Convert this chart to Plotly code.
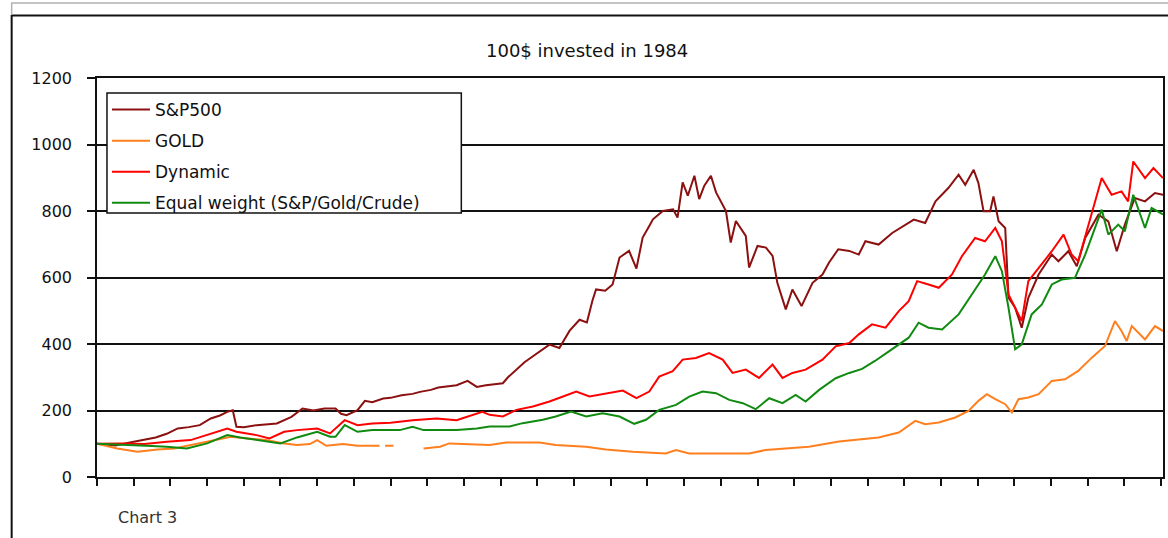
import plotly.graph_objects as go

# Growth of 100$ invested in 1984 (value vs. fractional year)
sp_years = [1984.0, 1984.5, 1985.0, 1985.3, 1985.6, 1985.9, 1986.2, 1986.5, 1986.8, 1987.1,
            1987.35, 1987.55, 1987.7, 1987.8, 1988.0, 1988.35, 1988.6, 1988.9, 1989.3, 1989.6,
            1989.9, 1990.2, 1990.5, 1990.65, 1990.8, 1991.1, 1991.3, 1991.5, 1991.8, 1992.0,
            1992.3, 1992.6, 1992.8, 1993.1, 1993.3, 1993.6, 1993.8, 1994.1, 1994.35, 1994.6,
            1994.9, 1995.06, 1995.2, 1995.43, 1995.65, 1995.88, 1996.1, 1996.33, 1996.6, 1996.88,
            1997.15, 1997.35, 1997.5, 1997.6, 1997.85, 1998.05, 1998.24, 1998.5, 1998.7, 1998.87,
            1999.05, 1999.15, 1999.42, 1999.7, 1999.82, 1999.96, 2000.1, 2000.28, 2000.41, 2000.55,
            2000.73, 2000.87, 2001.14, 2001.27, 2001.41, 2001.68, 2001.77, 2002.0, 2002.23, 2002.41,
            2002.54, 2002.68, 2002.77, 2002.95, 2003.2, 2003.5, 2003.77, 2003.95, 2004.2, 2004.5,
            2004.76, 2004.94, 2005.3, 2005.67, 2006.03, 2006.26, 2006.57, 2006.85, 2007.2, 2007.48,
            2007.66, 2007.89, 2008.02, 2008.16, 2008.34, 2008.43, 2008.57, 2008.75, 2008.84, 2009.02,
            2009.2, 2009.38, 2009.66, 2010.02, 2010.2, 2010.47, 2010.7, 2010.93, 2011.29, 2011.56,
            2011.79, 2012.01, 2012.28, 2012.56, 2012.83, 2013.05]
sp_values = [100, 95, 106, 112, 119, 130, 146, 150, 156, 176,
             185, 196, 201, 151, 150, 156, 158, 161, 181, 206,
             200, 206, 206, 190, 186, 201, 229, 225, 236, 238,
             246, 250, 256, 262, 269, 272, 276, 289, 271, 276,
             281, 282, 300, 323, 345, 363, 380, 398, 388, 440,
             473, 465, 530, 564, 560, 579, 660, 680, 627, 720,
             755, 775, 800, 805, 780, 886, 846, 906, 836, 876,
             906, 856, 800, 705, 770, 725, 630, 695, 690, 665,
             584, 534, 504, 564, 514, 584, 609, 645, 685, 680,
             669, 709, 699, 734, 759, 774, 764, 829, 869, 909,
             879, 924, 884, 799, 799, 844, 769, 749, 539, 509,
             449, 539, 609, 669, 649, 679, 634, 719, 789, 769,
             679, 759, 839, 829, 854, 849]

gold_years = [1984.0, 1984.55, 1985.1, 1985.65, 1986.1, 1986.7, 1987.2, 1987.65, 1988.1, 1988.6,
              1989.1, 1989.45, 1989.8, 1990.0, 1990.25, 1990.7, 1991.1, 1991.35, 1991.7, 1991.78,
              1991.85, 1992.08, 1992.5, 1992.9, 1993.35, 1993.6, 1993.95, 1994.7, 1995.15, 1996.06,
              1996.5, 1997.33, 1997.87, 1998.6, 1999.5, 1999.78, 2000.14, 2001.05, 2001.77, 2002.22,
              2002.86, 2003.4, 2004.22, 2004.76, 2005.3, 2005.85, 2006.3, 2006.57, 2006.94, 2007.39,
              2007.75, 2008.02, 2008.25, 2008.48, 2008.75, 2008.93, 2009.11, 2009.38, 2009.66, 2010.02,
              2010.38, 2010.74, 2011.11, 2011.47, 2011.74, 2011.92, 2012.06, 2012.2, 2012.56, 2012.83,
              2013.05]
gold_values = [100, 86, 76, 83, 86, 99, 111, 121, 116, 111,
               101, 96, 99, 111, 94, 99, 94, 94, 94, None,
               94, 94, None, 86, 91, 101, 99, 96, 104, 104,
               96, 91, 83, 76, 71, 81, 71, 71, 71, 81,
               86, 91, 107, 114, 119, 134, 169, 159, 164, 179,
               199, 229, 249, 234, 219, 194, 234, 239, 249, 289,
               294, 319, 359, 394, 469, 439, 409, 454, 414, 454,
               439]

dyn_years = [1984.0, 1984.65, 1985.3, 1985.9, 1986.55, 1987.1, 1987.55, 1987.8, 1988.35, 1988.7,
             1989.1, 1989.45, 1990.0, 1990.35, 1990.75, 1991.1, 1991.5, 1992.0, 1992.6, 1993.25,
             1993.8, 1994.5, 1994.7, 1995.06, 1995.43, 1995.88, 1996.33, 1996.7, 1997.06, 1997.42,
             1997.87, 1998.33, 1998.7, 1999.05, 1999.32, 1999.69, 1999.96, 2000.32, 2000.68, 2001.05,
             2001.32, 2001.68, 2002.04, 2002.41, 2002.68, 2002.95, 2003.31, 2003.77, 2004.13, 2004.5,
             2004.76, 2005.12, 2005.49, 2005.85, 2006.12, 2006.35, 2006.66, 2006.94, 2007.3, 2007.57,
             2007.93, 2008.2, 2008.48, 2008.66, 2008.84, 2009.02, 2009.2, 2009.38, 2009.75, 2010.02,
             2010.34, 2010.56, 2010.74, 2011.02, 2011.38, 2011.65, 2011.92, 2012.1, 2012.24, 2012.56,
             2012.79, 2013.05]
dyn_values = [100, 101, 99, 106, 111, 131, 146, 136, 126, 116,
              136, 141, 146, 131, 171, 156, 161, 163, 171, 176,
              171, 196, 187, 182, 202, 212, 227, 242, 257, 242,
              252, 260, 237, 257, 302, 318, 353, 358, 373, 353,
              313, 323, 298, 338, 298, 313, 323, 353, 393, 403,
              429, 459, 449, 499, 529, 589, 579, 569, 609, 664,
              719, 709, 749, 709, 549, 509, 469, 589, 639, 679,
              729, 669, 649, 759, 899, 849, 859, 829, 949, 899,
              929, 899]

eq_years = [1984.0, 1984.5, 1985.0, 1985.5, 1985.9, 1986.45, 1987.0, 1987.3, 1987.55, 1987.9,
            1988.5, 1989.0, 1989.45, 1990.0, 1990.35, 1990.5, 1990.75, 1991.1, 1991.5, 1992.25,
            1992.6, 1992.9, 1993.8, 1994.35, 1994.7, 1995.24, 1995.6, 1996.15, 1996.5, 1996.92,
            1997.33, 1997.78, 1998.24, 1998.64, 1998.96, 1999.32, 1999.78, 2000.14, 2000.5, 2000.87,
            2001.23, 2001.6, 2001.95, 2002.32, 2002.68, 2003.04, 2003.31, 2003.68, 2004.13, 2004.5,
            2004.85, 2005.2, 2005.58, 2006.12, 2006.39, 2006.66, 2007.03, 2007.48, 2007.84, 2008.2,
            2008.48, 2008.66, 2008.84, 2009.02, 2009.2, 2009.47, 2009.75, 2010.02, 2010.29, 2010.65,
            2010.93, 2011.2, 2011.38, 2011.56, 2011.83, 2012.01, 2012.24, 2012.56, 2012.74, 2013.05]
eq_values = [100, 97, 95, 93, 91, 86, 101, 115, 126, 119,
             109, 101, 119, 136, 121, 121, 156, 136, 141, 141,
             151, 141, 141, 146, 152, 152, 162, 172, 182, 197,
             182, 192, 182, 160, 172, 202, 217, 242, 257, 252,
             232, 222, 204, 237, 222, 247, 227, 262, 297, 313,
             325, 349, 378, 419, 464, 449, 444, 489, 549, 609,
             664, 619, 509, 384, 399, 489, 519, 579, 594, 599,
             669, 749, 804, 729, 759, 739, 849, 749, 809, 790]

y_ticks = [0, 200, 400, 600, 800, 1000, 1200]

series = [
    ("S&P500", sp_years, sp_values, "#8B1010"),
    ("GOLD", gold_years, gold_values, "#FF7F1E"),
    ("Dynamic", dyn_years, dyn_values, "#FF0000"),
    ("Equal weight (S&P/Gold/Crude)", eq_years, eq_values, "#108A10"),
]

FONT = "DejaVu Sans, Verdana, sans-serif"
INK = "#111"

fig = go.Figure()
for i, (name, xs, ys, color) in enumerate(series):
    fig.add_trace(go.Scatter(
        x=xs, y=ys, name=name, mode="lines",
        line=dict(color=color, width=2),
        connectgaps=False, legendgroup=f"g{i}",
    ))

W, H = 1168, 538
L, R, T, B = 97, 3, 78, 61
pw, ph = W - L - R, H - T - B


def px_x(px):
    return (px - L) / pw


def px_y(py):
    return (H - B - py) / ph


fig.update_layout(
    width=W, height=H,
    margin=dict(l=L, r=R, t=T, b=B),
    paper_bgcolor="white", plot_bgcolor="white",
    font=dict(family=FONT, size=17, color=INK),
    showlegend=True,
    legend=dict(
        x=px_x(107), y=px_y(92), xanchor="left", yanchor="top",
        bgcolor="rgba(0,0,0,0)", borderwidth=0,
        font=dict(family=FONT, size=17, color=INK),
        tracegroupgap=6, itemwidth=38,
    ),
    xaxis=dict(
        range=[1984, 2013.05], tick0=1984, dtick=1,
        showticklabels=False, ticks="outside", ticklen=7, tickwidth=1.5,
        tickcolor=INK, showgrid=False, zeroline=False,
        showline=True, linecolor=INK, linewidth=1.5, mirror=True,
    ),
    yaxis=dict(
        range=[0, 1200], tickvals=y_ticks, ticktext=[str(v) for v in y_ticks],
        ticks="outside", ticklen=8, tickwidth=1.5, tickcolor=INK,
        ticklabelstandoff=12,
        showgrid=True, gridcolor=INK, gridwidth=1.6, zeroline=False,
        showline=True, linecolor=INK, linewidth=1.5, mirror=True,
        tickfont=dict(family=FONT, size=16, color=INK),
    ),
    shapes=[
        # sheet gridline above the chart object
        dict(type="line", xref="paper", yref="paper",
             x0=px_x(11), x1=px_x(1170), y0=px_y(3), y1=px_y(3),
             line=dict(color="#b0b0b0", width=1.5)),
        # chart object border (top and left edges)
        dict(type="line", xref="paper", yref="paper",
             x0=px_x(11), x1=px_x(1170), y0=px_y(15.5), y1=px_y(15.5),
             line=dict(color=INK, width=2)),
        dict(type="line", xref="paper", yref="paper",
             x0=px_x(11.5), x1=px_x(11.5), y0=px_y(15), y1=px_y(540),
             line=dict(color=INK, width=2)),
        dict(type="line", xref="paper", yref="paper",
             x0=px_x(11.5), x1=px_x(11.5), y0=px_y(3), y1=px_y(15),
             line=dict(color="#b0b0b0", width=1.5)),
        # legend frame (opaque, covers the gridlines behind the legend)
        dict(type="rect", xref="paper", yref="paper", layer="above",
             x0=px_x(107), x1=px_x(462), y0=px_y(213), y1=px_y(93),
             fillcolor="white", line=dict(color=INK, width=1.5)),
    ],
    annotations=[
        dict(text="100$ invested in 1984", xref="paper", yref="paper",
             x=px_x(588), y=px_y(50), xanchor="center", yanchor="middle",
             showarrow=False, font=dict(family=FONT, size=18, color=INK)),
        dict(text="Chart 3", xref="paper", yref="paper",
             x=px_x(116), y=px_y(517), xanchor="left", yanchor="middle",
             showarrow=False, font=dict(family=FONT, size=16, color="#333")),
    ],
)

fig.write_html("out.html")
